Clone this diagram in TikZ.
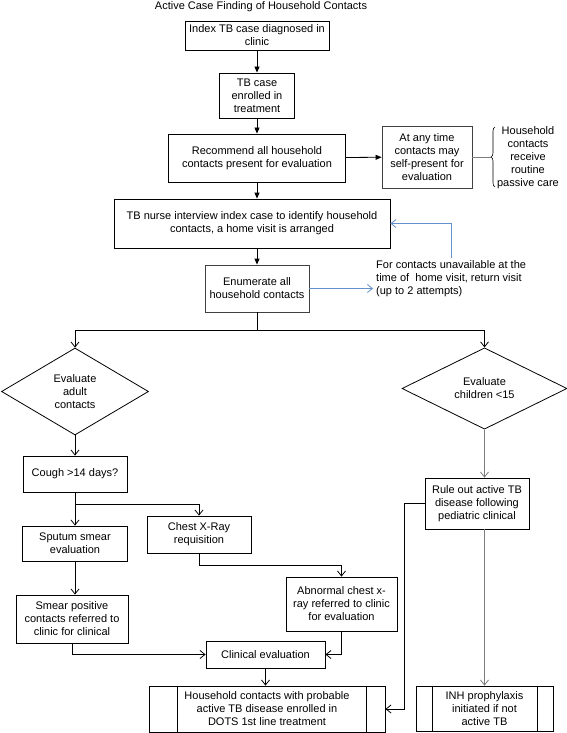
\documentclass[tikz,border=0pt]{standalone}
\usepackage{fontspec}
\setmainfont{Liberation Sans}
\usetikzlibrary{arrows.meta,shapes.geometric,decorations.pathreplacing}

\definecolor{visitblue}{RGB}{100,145,205}
\definecolor{linegray}{RGB}{125,125,125}

\begin{document}
\begin{tikzpicture}[x=1pt,y=-1pt,
    font=\fontsize{11}{13}\selectfont,
    box/.style={draw, line width=0.8pt, align=center, inner sep=1pt},
    decide/.style={draw, diamond, line width=0.8pt, align=center, inner sep=0pt},
    arr/.style={line width=0.8pt, -{Triangle[length=6pt,width=5pt]}},
    barb/.style={line width=0.8pt, -{Straight Barb[length=5pt,width=8pt]}},
    visit/.style={visitblue, line width=0.8pt, -{Straight Barb[length=5pt,width=8pt]}}]

    \useasboundingbox (0,0) rectangle (567,733);

    \node (title) at (261,7) {Active Case Finding of Household Contacts};

    % index case and household visit
    \node[box, minimum width=144pt, minimum height=29pt] (index) at (257,35.5) {Index TB case diagnosed in\\clinic};
    \node[box, minimum width=75pt, minimum height=45pt] (enrolled) at (257,95.5) {TB case\\enrolled in\\treatment};
    \node[box, minimum width=177pt, minimum height=48pt] (recommend) at (257,158) {Recommend all household\\contacts present for evaluation};
    \node[box, draw=black!75, minimum width=90pt, minimum height=62pt] (anytime) at (427,157) {At any time\\contacts may\\self-present for\\evaluation};
    \node[align=center] (passive) at (528,158) {Household\\contacts\\receive\\routine\\passive care};
    \node[box, minimum width=276pt, minimum height=49pt] (nurse) at (252,223.5) {TB nurse interview index case to identify household\\contacts, a home visit is arranged};
    \node[box, draw=black!75, minimum width=104pt, minimum height=47pt] (enum) at (257,288.5) {Enumerate all\\household contacts};
    \node[anchor=west, align=left, inner sep=3pt] (retnote) at (373,279) {For contacts unavailable at the\\time of\ \ home visit, return visit\\(up to 2 attempts)};

    \coordinate (bracetip) at (491,157);
    \draw[line width=0.6pt, decorate, decoration={brace, amplitude=4pt}] (495,187) -- (495,127);

    \draw[arr] (index) -- (enrolled);
    \draw[arr] (enrolled) -- (recommend);
    \draw[arr] (recommend) -- (anytime);
    \draw[linegray, line width=1pt] (anytime.east) -- (bracetip);
    \draw[arr] (recommend.south) -- (recommend.south |- nurse.north);
    \draw[arr] (nurse.south -| enum.north) -- (enum.north);
    \draw[visit] (enum.east) -- (enum.east -| retnote.west);
    \draw[visit] (retnote.north) |- (nurse.east);

    % adults
    \node[decide, minimum width=147pt, minimum height=87pt] (adult) at (75,391.5) {Evaluate\\adult\\contacts};
    \node[box, minimum width=104pt, minimum height=36pt] (cough) at (75,474) {Cough >14 days?};
    \node[box, minimum width=105pt, minimum height=35pt] (sputum) at (75,543.5) {Sputum smear\\evaluation};
    \node[box, minimum width=104pt, minimum height=37pt] (chest) at (199,534.5) {Chest X-Ray\\requisition};
    \node[box, minimum width=112pt, minimum height=48pt] (smear) at (72,619) {Smear positive\\contacts referred to\\clinic for clinical};
    \node[box, minimum width=111pt, minimum height=54pt] (abnormal) at (341.5,604) {Abnormal chest x-\\ray referred to clinic\\for evaluation};
    \node[box, minimum width=119pt, minimum height=27pt] (clinical) at (265.5,654.5) {Clinical evaluation};
    \node[box, minimum width=236pt, minimum height=46pt] (house) at (267,709) {Household contacts with probable\\active TB disease enrolled in\\DOTS 1st line treatment};
    \draw[line width=0.8pt] ([xshift=29pt]house.north west) -- ([xshift=29pt]house.south west);
    \draw[line width=0.8pt] ([xshift=-19pt]house.north east) -- ([xshift=-19pt]house.south east);

    % children
    \node[decide, minimum width=165pt, minimum height=79pt] (child) at (484.5,388.5) {Evaluate\\children <15};
    \node[box, minimum width=104pt, minimum height=51pt] (rule) at (477,503.5) {Rule out active TB\\disease following\\pediatric clinical};
    \node[box, minimum width=137pt, minimum height=45pt] (inh) at (484.5,708.5) {INH prophylaxis\\initiated if not\\active TB};
    \draw[line width=0.8pt] ([xshift=17pt]inh.north west) -- ([xshift=17pt]inh.south west);
    \draw[line width=0.8pt] ([xshift=-16pt]inh.north east) -- ([xshift=-16pt]inh.south east);

    \draw[barb] (enum.south) -- ++(0,18) -| (adult.north);
    \draw[barb] (enum.south) -- ++(0,18) -| (child.north);
    \draw[barb] (adult.south) -- (adult.south |- cough.north);
    \draw[barb] (cough) -- (sputum);
    \draw[barb] (cough.south) -- ++(0,12) -| (chest.north);
    \draw[barb] (sputum.south) -- (sputum.south |- smear.north);
    \draw[barb] (chest.south) -- ++(0,12) -| (abnormal.north);
    \draw[barb] (smear.south) |- (clinical.west);
    \draw[barb] (abnormal.south) |- (clinical.east);
    \draw[barb] (clinical.south) -- (clinical.south |- house.north);
    \draw[barb, linegray] (child.south) -- (child.south |- rule.north);
    \draw[barb, linegray] (child.south |- rule.south) -- (child.south |- inh.north);
    \draw[barb] (rule.west) -- ++(-20,0) |- (house.east);

\end{tikzpicture}
\end{document}
